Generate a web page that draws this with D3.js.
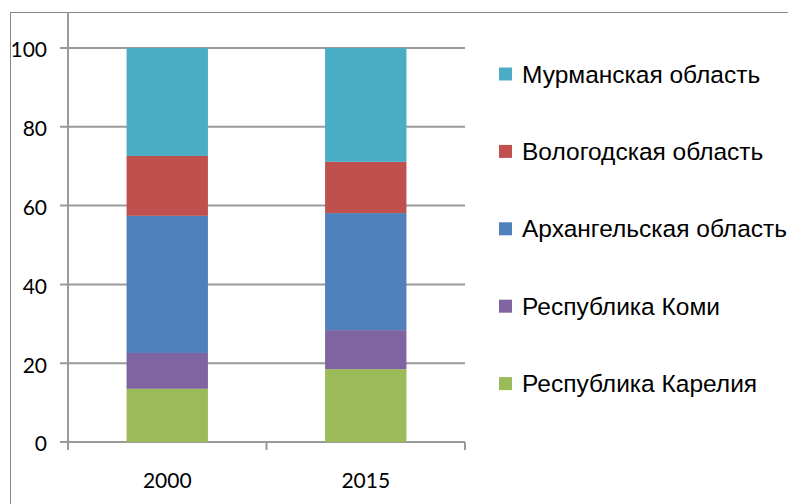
<!DOCTYPE html>
<html>
<head>
<meta charset="utf-8">
<script src="https://cdn.jsdelivr.net/npm/d3@7"></script>
<style>
  body { margin: 0; background: #fff; }
  svg { display: block; }
  .tick-label { font-family: Lato, "Liberation Sans", sans-serif; font-size: 21px; fill: #000; }
  .legend-label { font-family: "Liberation Sans", Arial, sans-serif; font-size: 24.5px; fill: #000; }
</style>
</head>
<body>
<div id="chart"></div>
<script>
// data
const years = ['2000', '2015'];
const regions = ['Республика Карелия', 'Республика Коми', 'Архангельская область', 'Вологодская область', 'Мурманская область'];
const karelia = [13.5, 18.5];
const komi = [9.1, 9.9];
const arkhangelsk = [34.8, 29.7];
const vologda = [15.2, 13.0];
const murmansk = [27.4, 28.9];
const yTicks = [0, 20, 40, 60, 80, 100];

const colors = ['#9BBB59', '#8064A2', '#4F81BD', '#C0504D', '#4BACC6'];
const seriesValues = [karelia, komi, arkhangelsk, vologda, murmansk];

const width = 788, height = 504;
const plot = { left: 68, right: 465, top: 48, bottom: 442 };

const rows = years.map((year, i) => {
    const row = { year };
    regions.forEach((r, j) => { row[r] = seriesValues[j][i]; });
    return row;
});

const svg = d3.select('#chart').append('svg')
    .attr('width', width)
    .attr('height', height);

// outer frame (runs off the right and bottom edges)
svg.append('rect')
    .attr('x', 10.5).attr('y', 12.5)
    .attr('width', 900).attr('height', 600)
    .attr('fill', 'none')
    .attr('stroke', '#888');

const x = d3.scaleBand().domain(years).range([plot.left, plot.right]);
const y = d3.scaleLinear().domain([0, 100]).range([plot.bottom, plot.top]);

// gridlines
svg.append('g')
    .selectAll('line')
    .data(yTicks)
    .enter()
        .append('line')
        .attr('x1', plot.left - 8)
        .attr('x2', plot.right)
        .attr('y1', d => y(d))
        .attr('y2', d => y(d))
        .attr('stroke', '#9a9a9a')
        .attr('stroke-width', 2);

// stacked bars
const stack = d3.stack().keys(regions);
const barWidth = x.bandwidth() * 0.41;

svg.append('g')
    .selectAll('g')
    .data(stack(rows))
    .enter()
        .append('g')
        .attr('fill', (d, i) => colors[i])
        .selectAll('rect')
        .data(d => d)
        .enter()
            .append('rect')
            .attr('x', d => x(d.data.year) + (x.bandwidth() - barWidth) / 2)
            .attr('width', barWidth)
            .attr('y', d => y(d[1]))
            .attr('height', d => y(d[0]) - y(d[1]));

// y axis line
svg.append('line')
    .attr('x1', plot.left).attr('x2', plot.left)
    .attr('y1', 12).attr('y2', plot.bottom + 8)
    .attr('stroke', '#9a9a9a')
    .attr('stroke-width', 2);

// x axis ticks
const xTickPos = [plot.left, x('2015'), plot.right];
svg.append('g')
    .selectAll('line')
    .data(xTickPos)
    .enter()
        .append('line')
        .attr('x1', d => d).attr('x2', d => d)
        .attr('y1', plot.bottom).attr('y2', plot.bottom + 8)
        .attr('stroke', '#9a9a9a')
        .attr('stroke-width', 2);

// y tick labels
svg.append('g')
    .selectAll('text')
    .data(yTicks)
    .enter()
        .append('text')
        .attr('class', 'tick-label')
        .attr('x', 47)
        .attr('y', d => y(d) + 2)
        .attr('dy', '0.35em')
        .attr('text-anchor', 'end')
        .text(d => d);

// x tick labels
svg.append('g')
    .selectAll('text')
    .data(years)
    .enter()
        .append('text')
        .attr('class', 'tick-label')
        .attr('x', d => x(d) + x.bandwidth() / 2)
        .attr('y', 488)
        .attr('text-anchor', 'middle')
        .text(d => d);

// legend, top item is the last series
const legendItems = regions.map((r, i) => ({ name: r, color: colors[i] })).reverse();
const legend = svg.append('g')
    .selectAll('g')
    .data(legendItems)
    .enter()
        .append('g')
        .attr('transform', (d, i) => `translate(499, ${74 + i * 77.4})`);

legend.append('rect')
    .attr('x', 0).attr('y', -6.5)
    .attr('width', 13).attr('height', 13)
    .attr('fill', d => d.color);

legend.append('text')
    .attr('class', 'legend-label')
    .attr('x', 23)
    .attr('y', 8.5)
    .text(d => d.name);
</script>
</body>
</html>
